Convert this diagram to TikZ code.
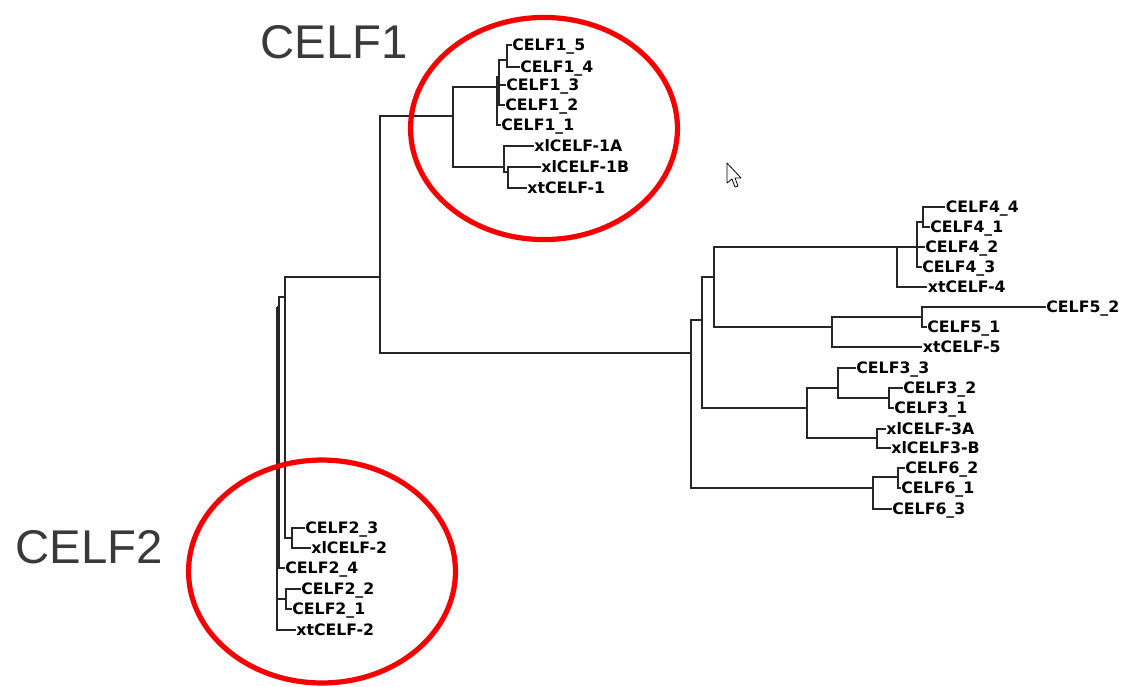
\documentclass[tikz,border=0pt]{standalone}
\usepackage{fontspec}
\setmainfont{Liberation Sans}
\newfontfamily\leaffont{DejaVu Sans}
\usetikzlibrary{positioning}
\definecolor{cladered}{RGB}{245,0,0}
\definecolor{labelgrey}{RGB}{58,58,58}

\begin{document}
\begin{tikzpicture}[x=0.75pt, y=-0.75pt,
    leaf/.style={anchor=west, inner sep=0.5pt, font=\leaffont\bfseries\fontsize{11.8}{12}\selectfont, text height=8.5pt, text depth=0pt},
    branch/.style={line width=0.8pt, draw=black!85},
    clade/.style={draw=cladered, line width=3.9pt},
    family/.style={anchor=base west, inner sep=0pt, text=labelgrey, font=\fontsize{35.5}{40}\selectfont}]
  \useasboundingbox (0,0) rectangle (1123,686);

  % inner nodes of the tree
  \coordinate (n0) at (277,307);
  \coordinate (n1) at (279,307);
  \coordinate (n2) at (285,297);
  \coordinate (n3) at (380,277);
  \coordinate (n4) at (453,116);
  \coordinate (n5) at (497,87);
  \coordinate (n6) at (504,167);
  \coordinate (n7) at (508,172);
  \coordinate (n8) at (499,77);
  \coordinate (n9) at (507,60);
  \coordinate (n10) at (691,353);
  \coordinate (n11) at (702,320);
  \coordinate (n12) at (714,277);
  \coordinate (n13) at (807,408);
  \coordinate (n14) at (897,247);
  \coordinate (n15) at (832,327);
  \coordinate (n16) at (917,247);
  \coordinate (n17) at (923,222);
  \coordinate (n18) at (922,317);
  \coordinate (n19) at (838,388);
  \coordinate (n20) at (877,438);
  \coordinate (n21) at (889,398);
  \coordinate (n22) at (873,488);
  \coordinate (n23) at (898,477);
  \coordinate (n24) at (286,599);
  \coordinate (n25) at (292,538);

  % leaves
  \node[leaf] (f15) at (511.5,45) {CELF1\_5};
  \node[leaf] (f14) at (519.5,67) {CELF1\_4};
  \node[leaf] (f13) at (505.5,85) {CELF1\_3};
  \node[leaf] (f12) at (504.5,105) {CELF1\_2};
  \node[leaf] (f11) at (500.5,125) {CELF1\_1};
  \node[leaf] (xl1a) at (533.5,146) {xlCELF-1A};
  \node[leaf] (xl1b) at (540.5,167) {xlCELF-1B};
  \node[leaf] (xt1) at (526.5,188) {xtCELF-1};
  \node[leaf] (f44) at (945,207) {CELF4\_4};
  \node[leaf] (f41) at (929.5,227) {CELF4\_1};
  \node[leaf] (f42) at (924.5,247) {CELF4\_2};
  \node[leaf] (f43) at (921.5,267) {CELF4\_3};
  \node[leaf] (xt4) at (927,287) {xtCELF-4};
  \node[leaf] (f52) at (1045.5,307) {CELF5\_2};
  \node[leaf] (f51) at (926.5,327) {CELF5\_1};
  \node[leaf] (xt5) at (922,347) {xtCELF-5};
  \node[leaf] (f33) at (855.5,368) {CELF3\_3};
  \node[leaf] (f32) at (902.5,388) {CELF3\_2};
  \node[leaf] (f31) at (893.5,408) {CELF3\_1};
  \node[leaf] (xl3a) at (885.5,429) {xlCELF-3A};
  \node[leaf] (xl3b) at (890.5,448) {xlCELF3-B};
  \node[leaf] (f62) at (904.5,468) {CELF6\_2};
  \node[leaf] (f61) at (900.5,488) {CELF6\_1};
  \node[leaf] (f63) at (891.5,509) {CELF6\_3};
  \node[leaf] (f23) at (304.5,528) {CELF2\_3};
  \node[leaf] (xl2) at (310.5,548) {xlCELF-2};
  \node[leaf] (f24) at (284.5,568) {CELF2\_4};
  \node[leaf] (f22) at (300.5,589) {CELF2\_2};
  \node[leaf] (f21) at (291.5,609) {CELF2\_1};
  \node[leaf] (xt2) at (295.5,630) {xtCELF-2};

  % branches between inner nodes
  \foreach \p/\c in {n0/n1, n0/n24, n1/n2, n2/n3, n2/n25, n3/n4, n3/n10,
      n4/n5, n4/n6, n5/n8, n8/n9, n6/n7, n10/n11, n10/n22, n11/n12, n11/n13,
      n12/n14, n12/n15, n14/n16, n16/n17, n15/n18, n13/n19, n13/n20,
      n19/n21, n22/n23}
    \draw[branch] (\p) |- (\c);
  % branches to leaves
  \foreach \p/\c in {n9/f15, n9/f14, n8/f13, n8/f12, n5/f11, n6/xl1a,
      n7/xl1b, n7/xt1, n17/f44, n17/f41, n16/f42, n16/f43, n14/xt4,
      n18/f52, n18/f51, n15/xt5, n19/f33, n21/f32, n21/f31, n20/xl3a,
      n20/xl3b, n23/f62, n23/f61, n22/f63, n25/f23, n25/xl2, n1/f24,
      n24/f22, n24/f21, n0/xt2}
    \draw[branch] (\p) |- (\c.west);

  % family labels and circles
  \node[family] (lab1) at (260,58) {CELF1};
  \node[family] (lab2) at (15,563) {CELF2};
  \draw[clade] (544,128.5) ellipse [x radius=100.1pt, y radius=83.3pt];
  \draw[clade] (322,571.5) ellipse [x radius=100.1pt, y radius=83.6pt];

  % mouse pointer
  \draw[line width=0.6pt, fill=white, line join=round] (727,163) -- (727,183) -- (732,179) -- (735,187)
    -- (738,186) -- (735,178) -- (741,178) -- cycle;
\end{tikzpicture}
\end{document}
